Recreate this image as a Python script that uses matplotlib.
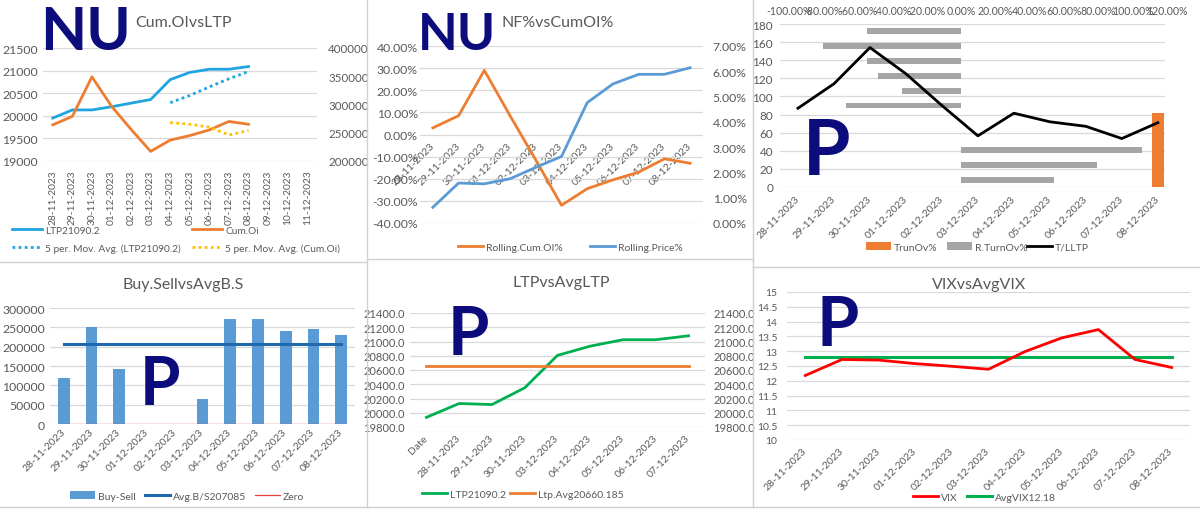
import matplotlib
matplotlib.use('Agg')
import matplotlib.pyplot as plt
from matplotlib.lines import Line2D
from matplotlib.ticker import FuncFormatter
import numpy as np

plt.rcParams['font.family'] = ['Lato', 'DejaVu Sans']

# ---- data ----
dates14 = ['28-11-2023', '29-11-2023', '30-11-2023', '01-12-2023', '02-12-2023', '03-12-2023',
           '04-12-2023', '05-12-2023', '06-12-2023', '07-12-2023', '08-12-2023',
           '09-12-2023', '10-12-2023', '11-12-2023']
dates11 = dates14[:11]

# Cum.OIvsLTP
ltp = [19950, 20130, 20130, 20200, 20280, 20360, 20800, 20960, 21030, 21030, 21090]
cum_oi = [264000, 279000, 349000, 297000, 256000, 217000, 237000, 245000, 255000, 270000, 265000]
ma_ltp = [20290, 20450, 20640, 20820, 20980]      # 04-12 .. 08-12
ma_oi = [268000, 265000, 260000, 246000, 254000]  # 04-12 .. 08-12

# NF%vsCumOI%
roll_oi = [0.03, 0.085, 0.29, 0.085, -0.115, -0.32, -0.245, -0.205, -0.17, -0.11, -0.13]
roll_px = [0.0062, 0.0158, 0.0155, 0.0175, 0.022, 0.0263, 0.0476, 0.055, 0.0588, 0.0588, 0.0614]

# TrunOv / R.TurnOv / T/LLTP
t_lltp = [87, 114, 154, 125, 90, 56.5, 81.5, 72, 67, 53.5, 71]
trunov = [0, 0, 0, 0, 0, 0, 0, 0, 0, 0, 82]
r_turnov = [0.54, 0.79, 1.054, 0, 0, -0.67, -0.344, -0.48, -0.548, -0.80, -0.548]

# Buy.SellvsAvgB.S
buy_sell = [119000, 251000, 143000, 0, 0, 65000, 272000, 272000, 241000, 245000, 229000]
avg_bs = 207085
zero = [0] * 11

# LTPvsAvgLTP
ltp_dates = ['Date', '28-11-2023', '29-11-2023', '30-11-2023', '03-12-2023',
             '04-12-2023', '05-12-2023', '06-12-2023', '07-12-2023']
ltp5 = [19935, 20130, 20115, 20350, 20805, 20935, 21025, 21025, 21080]
avg_ltp = 20660.185

# VIXvsAvgVIX
vix = [12.18, 12.72, 12.70, 12.58, 12.49, 12.39, 12.99, 13.45, 13.73, 12.72, 12.45]
avg_vix = 12.8

W, H = 1200, 510
GRAY = '#595959'
GRID = '#d9d9d9'
NAVY = '#0c0c7c'
ORANGE = '#ed7d31'
BLUE = '#5b9bd5'

fig = plt.figure(figsize=(12, 5.1), dpi=100)
fig.patch.set_facecolor('white')


def box(x0, y0, x1, y1):
    return fig.add_axes([x0 / W, 1 - y1 / H, (x1 - x0) / W, (y1 - y0) / H])


def style(ax, size=8.5):
    for s in ax.spines.values():
        s.set_visible(False)
    ax.tick_params(length=0, colors=GRAY, labelsize=size)
    ax.set_axisbelow(True)
    ax.patch.set_alpha(0)


def grid(ax):
    ax.yaxis.grid(True, color=GRID, lw=0.9)


def dates(ax, labels, pad, rot=45):
    ax.set_xticks(range(len(labels)))
    if rot == 90:
        ax.set_xticklabels(labels, rotation=90, fontsize=7.3)
    else:
        ax.set_xticklabels(labels, rotation=rot, ha='right', va='center',
                           rotation_mode='anchor', fontsize=7.5)
    ax.tick_params(axis='x', pad=pad)


def leg(handle, label, x, y, hl=2.4, fs=7.5):
    fig.legend([handle], [label], loc='center left', bbox_to_anchor=(x / W, 1 - y / H),
               frameon=False, borderpad=0, borderaxespad=0, handlelength=hl,
               handletextpad=0.3, fontsize=fs, labelcolor=GRAY)


def title(text, x, y):
    fig.text(x / W, 1 - y / H, text, ha='center', va='center', fontsize=11.5, color=GRAY)


def scribble(text, x, base, h):
    fig.text(x / W, 1 - base / H, text, ha='left', va='baseline', color=NAVY,
             fontsize=h / 0.717 / 1.389, fontweight='bold', family='Lato')


pct = FuncFormatter(lambda v, p: f'{v * 100:.2f}%')

# ---- panel 1: Cum.OIvsLTP ----
ax1 = box(43, 49, 317, 162)
style(ax1, 8.8)
ax1.set_xlim(-0.5, 13.5)
ax1.set_ylim(19000, 21500)
ax1.set_yticks(range(19000, 21501, 500))
grid(ax1)
dates(ax1, dates14, 6, rot=90)
ax1.tick_params(axis='y', pad=3.6)
x11 = np.arange(11)
l_ltp, = ax1.plot(x11, ltp, color='#1ea5e0', lw=2)
l_maltp, = ax1.plot(x11[6:], ma_ltp, color='#1ea5e0', lw=2, ls=(0, (1, 1.2)))
ax1b = ax1.twinx()
style(ax1b, 8.3)
ax1b.set_ylim(200000, 400000)
ax1b.set_yticks(range(200000, 400001, 50000))
ax1b.tick_params(axis='y', pad=8)
l_oi, = ax1b.plot(x11, cum_oi, color=ORANGE, lw=2)
l_maoi, = ax1b.plot(x11[6:], ma_oi, color='#ffc000', lw=2, ls=(0, (1, 1.2)))
title('Cum.OIvsLTP', 184, 23)
leg(l_ltp, 'LTP21090.2', 12, 231, 3.0, 7.3)
leg(l_oi, 'Cum.Oi', 192, 231, 3.0, 7.3)
leg(l_maltp, '5 per. Mov. Avg. (LTP21090.2)', 12, 249, 3.0, 7.3)
leg(l_maoi, '5 per. Mov. Avg. (Cum.Oi)', 192, 249, 3.0, 7.3)

# ---- panel 2: NF%vsCumOI% ----
ax2 = box(420, 47, 703, 224)
style(ax2, 8.8)
ax2.set_xlim(-0.5, 10.5)
ax2.set_ylim(-0.4, 0.4)
ax2.set_yticks([i / 10 for i in range(-4, 5)])
ax2.yaxis.set_major_formatter(pct)
grid(ax2)
ax2.spines['bottom'].set_position(('data', 0))
dates(ax2, dates11, 7)
ax2.tick_params(axis='y', pad=1.5)
l_roi, = ax2.plot(x11, roll_oi, color=ORANGE, lw=2)
ax2b = ax2.twinx()
style(ax2b, 8.8)
ax2b.set_ylim(0, 0.07)
ax2b.set_yticks([i / 100 for i in range(8)])
ax2b.yaxis.set_major_formatter(pct)
ax2b.tick_params(axis='y', pad=7)
l_rpx, = ax2b.plot(x11, roll_px, color=BLUE, lw=2)
title('NF%vsCumOI%', 558, 23)
leg(l_roi, 'Rolling.Cum.OI%', 458, 248)
leg(l_rpx, 'Rolling.Price%', 590, 248)

# ---- panel 3: TrunOv% / R.TurnOv% / T/LLTP ----
ax3 = box(780, 25, 1165, 188)
style(ax3)
ax3.set_xlim(-0.5, 10.2)
ax3.set_ylim(0, 180)
ax3.set_yticks(range(0, 181, 20))
grid(ax3)
dates(ax3, dates11, 7)
ax3.tick_params(axis='y', pad=5)
ax3c = box(789, 25, 1167, 188)
style(ax3c)
ax3c.set_xlim(-1.0, 1.2)
ax3c.set_ylim(-0.5, 10.5)
ax3c.set_yticks([])
ax3c.xaxis.tick_top()
ax3c.set_xticks([i / 5 for i in range(-5, 7)])
ax3c.xaxis.set_major_formatter(pct)
ax3c.tick_params(axis='x', labelsize=7.6, pad=6)
b_rt = ax3c.barh(x11, r_turnov, height=0.4, color='#a5a5a5')
ax3l = box(780, 25, 1165, 188)
ax3l.axis('off')
ax3l.set_xlim(-0.5, 10.2)
ax3l.set_ylim(0, 180)
b_tr = ax3l.bar(x11, trunov, width=0.33, color=ORANGE)
l_tl, = ax3l.plot(x11, t_lltp, color='black', lw=2)
leg(b_tr, 'TrunOv%', 866, 248)
leg(b_rt, 'R.TurnOv%', 947, 248)
leg(l_tl, 'T/LLTP', 1027, 248)

# ---- panel 4: Buy.SellvsAvgB.S ----
ax4 = box(50, 309, 355, 425)
style(ax4, 8.8)
ax4.set_xlim(-0.5, 10.5)
ax4.set_ylim(0, 300000)
ax4.set_yticks(range(0, 300001, 50000))
grid(ax4)
dates(ax4, dates11, 4.5)
ax4.tick_params(axis='y', pad=3.6)
b_bs = ax4.bar(x11, buy_sell, width=0.42, color=BLUE)
l_avg, = ax4.plot(x11, [avg_bs] * 11, color='#1f6aae', lw=2.2)
l_zero, = ax4.plot(x11, zero, color='#e8413c', lw=0.9)
title('Buy.SellvsAvgB.S', 183, 285)
leg(b_bs, 'Buy-Sell', 70, 497)
leg(l_avg, 'Avg.B/S207085', 145, 497)
leg(l_zero, 'Zero', 255, 497)

# ---- panel 5: LTPvsAvgLTP ----
ax5 = box(410, 314, 705, 428)
style(ax5, 8)
x9 = np.arange(len(ltp_dates))
ax5.set_xlim(-0.5, 8.5)
ax5.set_ylim(19800, 21400)
ax5.set_yticks(range(19800, 21401, 200))
ax5.yaxis.set_major_formatter(FuncFormatter(lambda v, p: f'{v:.1f}'))
grid(ax5)
dates(ax5, ltp_dates, 6.5)
ax5.tick_params(axis='y', pad=3.6)
l_g, = ax5.plot(x9, ltp5, color='#00b050', lw=2)
l_o, = ax5.plot(x9, [avg_ltp] * len(x9), color=ORANGE, lw=2)
ax5b = ax5.twinx()
style(ax5b, 8)
ax5b.set_ylim(19800, 21400)
ax5b.set_yticks(range(19800, 21401, 200))
ax5b.yaxis.set_major_formatter(FuncFormatter(lambda v, p: f'{v:.1f}'))
ax5b.tick_params(axis='y', pad=6)
title('LTPvsAvgLTP', 561, 283)
leg(l_g, 'LTP21090.2', 422, 495)
leg(l_o, 'Ltp.Avg20660.185', 510, 495)

# ---- panel 6: VIXvsAvgVIX ----
ax6 = box(787, 293, 1190, 441)
style(ax6, 7.5)
ax6.set_xlim(-0.5, 10.5)
ax6.set_ylim(10, 15)
ax6.set_yticks([10 + i / 2 for i in range(11)])
ax6.yaxis.set_major_formatter(FuncFormatter(lambda v, p: f'{v:g}'))
grid(ax6)
dates(ax6, dates11, 6.5)
ax6.tick_params(axis='y', pad=7)
l_avx, = ax6.plot(x11, [avg_vix] * 11, color='#00b050', lw=2.2)
l_vix, = ax6.plot(x11, vix, color='#ff0000', lw=2)
title('VIXvsAvgVIX', 979, 285)
leg(l_vix, 'VIX', 913, 498)
leg(l_avx, 'AvgVIX12.18', 967, 498)

# ---- panel borders (screenshot seams) ----
seams = [((0, 263), (367, 263)), ((367, 0), (367, 508)), ((368, 260), (752, 260)),
         ((752.5, 0), (752.5, 508)), ((753, 268), (1200, 268)), ((0, 508), (1200, 508))]
for (xa, ya), (xb, yb) in seams:
    fig.add_artist(Line2D([xa / W, xb / W], [1 - ya / H, 1 - yb / H],
                          transform=fig.transFigure, color='#d0d0d0', lw=1))

# ---- handwritten marks ----
scribble('NU', 40, 50, 43)
scribble('NU', 418, 50, 37)
scribble('P', 803, 175, 55)
scribble('P', 140, 405, 47)
scribble('P', 448, 355, 48)
scribble('P', 817, 346, 49)

fig.savefig('out.png', dpi=100)
